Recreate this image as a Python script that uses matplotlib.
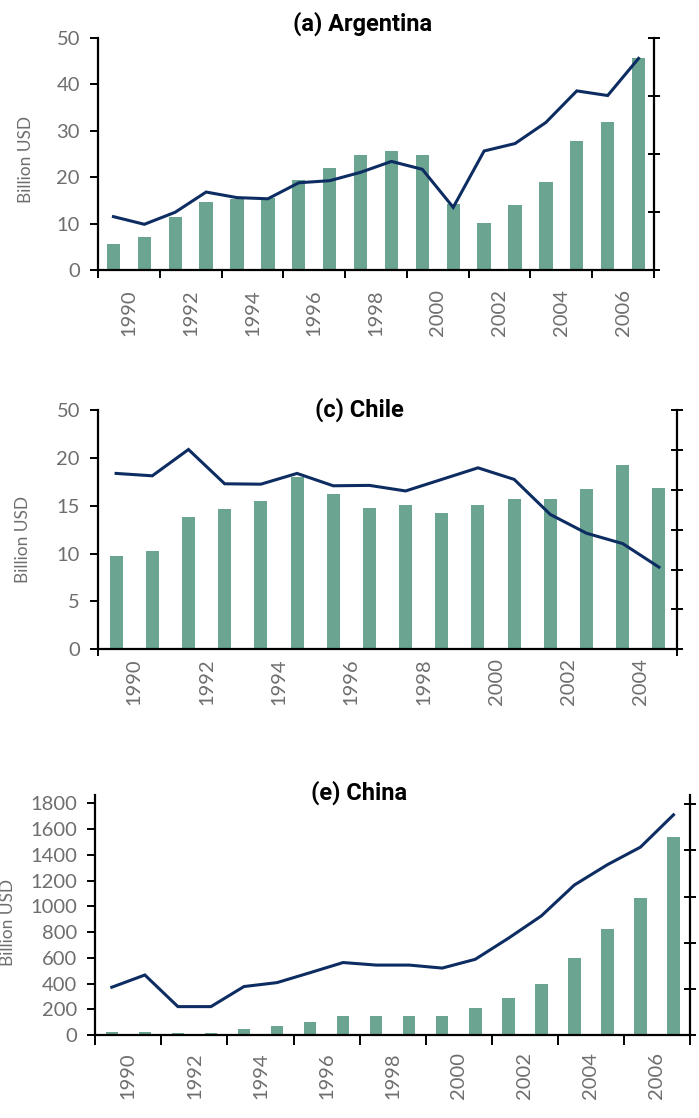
import numpy as np
import matplotlib
matplotlib.use("Agg")
import matplotlib.pyplot as plt

plt.rcParams['font.family'] = ['Lato', 'DejaVu Sans']

BAR_COLOR = "#6ba591"
LINE_COLOR = "#0d2d62"
TICK_COLOR = "#6e6e6e"
TITLE_FONT = ["Roboto", "DejaVu Sans"]

# (a) Argentina, 1990-2007
ar_years = list(range(1990, 2008))
ar_bars = [5.6, 7.1, 11.4, 14.7, 15.4, 15.5, 19.4, 22.0, 24.8, 25.6,
           24.8, 14.2, 10.1, 14.0, 19.0, 27.8, 31.9, 45.7]
ar_line = [23.0, 19.7, 24.9, 33.6, 31.2, 30.7, 37.6, 38.5, 42.1, 46.8,
           43.4, 27.0, 51.3, 54.5, 63.6, 77.2, 75.2, 91.2]
ar_yticks = [0, 10, 20, 30, 40, 50]
ar_ylabels = ["0", "10", "20", "30", "40", "50"]

# (c) Chile, 1990-2005
cl_years = list(range(1990, 2006))
cl_bars = [9.7, 10.3, 13.8, 14.7, 15.5, 18.0, 16.2, 14.8, 15.1, 14.2,
           15.1, 15.7, 15.7, 16.7, 19.3, 16.8]
cl_line = [44.1, 43.5, 50.1, 41.5, 41.4, 44.1, 41.0, 41.1, 39.7, 42.6,
           45.5, 42.6, 33.8, 29.1, 26.5, 20.6]
cl_yticks = [0, 5, 10, 15, 20, 25]
cl_ylabels = ["0", "5", "10", "15", "20", "50"]

# (e) China, 1990-2007
cn_years = list(range(1990, 2008))
cn_bars = [23, 23, 16, 16, 49, 70, 101, 148, 148, 148,
           148, 210, 287, 396, 598, 824, 1064, 1538]
cn_line = [20.7, 26.0, 12.3, 12.3, 21.0, 22.7, 27.0, 31.4, 30.3, 30.3,
           29.0, 32.8, 41.9, 51.6, 65.0, 73.8, 81.4, 95.4]
cn_yticks = list(range(0, 1801, 200))
cn_ylabels = [str(v) for v in cn_yticks]


def panel(rect, years, bars, line, yticks, ylabels, ylim, rlim, rticks,
          bar_w, every_tick, label_pad, ylab_x, ylab_y, xtick_len):
    fig = plt.gcf()
    ax = fig.add_axes(rect)
    x = np.arange(len(years))
    ax.bar(x, bars, width=bar_w, color=BAR_COLOR, zorder=2)
    ax.set_xlim(-0.5, len(years) - 0.5)
    ax.set_ylim(*ylim)
    ax.set_yticks(yticks)
    ax.set_yticklabels(ylabels)

    # tick marks on the category boundaries, year labels between them
    if every_tick:
        ax.set_xticks(np.arange(-0.5, len(years), 2))
    else:
        ax.set_xticks([-0.5, len(years) - 0.5])
    ax.set_xticklabels([])
    ax.set_xticks(x[::2] + 0.5, minor=True)
    ax.set_xticklabels([str(y) for y in years[::2]], minor=True, rotation=90)
    ax.tick_params(axis="x", which="major", direction="out", length=xtick_len,
                   width=1.4, color="black")
    ax.tick_params(axis="x", which="minor", length=0, pad=label_pad,
                   labelsize=14.5, labelcolor=TICK_COLOR)
    ax.tick_params(axis="y", direction="out", length=6, width=1.4,
                   pad=7, labelsize=14.5, labelcolor=TICK_COLOR)

    for s in ("top", "right"):
        ax.spines[s].set_visible(False)
    for s in ("left", "bottom"):
        ax.spines[s].set_linewidth(1.6)

    ax.set_ylabel("Billion USD", fontsize=12.5, color=TICK_COLOR)
    ax.yaxis.set_label_coords(ylab_x, ylab_y)
    ax.yaxis.label.set_verticalalignment("center")

    ax2 = ax.twinx()
    ax2.plot(x, line, color=LINE_COLOR, lw=2.2, solid_joinstyle="miter")
    ax2.set_ylim(*rlim)
    ax2.set_yticks(rticks)
    ax2.tick_params(axis="y", direction="inout", length=8, width=1.4,
                    labelright=False)
    for s in ("top", "left", "bottom"):
        ax2.spines[s].set_visible(False)
    ax2.spines["right"].set_linewidth(1.6)
    return ax


fig = plt.figure(figsize=(6.99, 11.18), dpi=100)

panel([98 / 699, 1 - 270 / 1118, 556 / 699, 232 / 1118],
      ar_years, ar_bars, ar_line, ar_yticks, ar_ylabels, (0, 50), (0, 100),
      [0, 25, 50, 75, 100], 0.43, True, 14, -0.129, 0.478, 6)
fig.text(363 / 699, 1 - 24 / 1118, "(a) Argentina", ha="center", va="center",
         fontsize=17, fontweight="bold", family=TITLE_FONT)

panel([98 / 699, 1 - 649.3 / 1118, 579 / 699, 239.3 / 1118],
      cl_years, cl_bars, cl_line, cl_yticks, cl_ylabels, (0, 25), (0, 60),
      list(range(0, 61, 10)), 0.36, False, 6.5, -0.129, 0.461, 5)
fig.text(359 / 699, 1 - 410 / 1118, "(c) Chile", ha="center", va="center",
         fontsize=17, fontweight="bold", family=TITLE_FONT)

panel([95.3 / 699, 1 - 1035 / 1118, 594.7 / 699, 240 / 1118],
      cn_years, cn_bars, cn_line, cn_yticks, cn_ylabels, (0, 1865), (0, 104),
      list(range(0, 101, 20)), 0.38, True, 12.5, -0.147, 0.467, 7.5)
fig.text(359 / 699, 1 - 793 / 1118, "(e) China", ha="center", va="center",
         fontsize=17, fontweight="bold", family=TITLE_FONT)

fig.savefig("out.png", dpi=100)
